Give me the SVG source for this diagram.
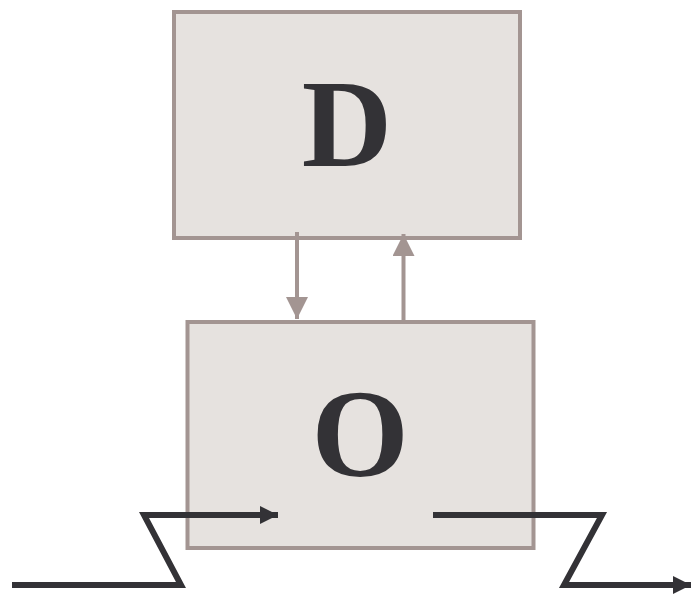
<svg xmlns="http://www.w3.org/2000/svg" width="691" height="594" viewBox="0 0 691 594">
<style>
.box{fill:#e6e2df;stroke:#a39592;stroke-width:4}
.lbl{font-family:"Liberation Serif",serif;font-weight:bold;font-size:125px;fill:#333236;text-anchor:middle}
.fb{stroke:#a39592;stroke-width:4;fill:none}
.io{stroke:#333236;stroke-width:6;fill:none;stroke-linejoin:miter}
</style>
<defs>
<marker id="ag" markerUnits="userSpaceOnUse" markerWidth="24" markerHeight="22" refX="22" refY="11" orient="auto" viewBox="0 0 24 22">
<path d="M0,0 L22,11 L0,22 Z" fill="#a39592"/>
</marker>
<marker id="ad" markerUnits="userSpaceOnUse" markerWidth="20" markerHeight="20" refX="18" refY="9" orient="auto" viewBox="0 0 20 18">
<path d="M0,0 L18,9 L0,18 Z" fill="#333236"/>
</marker>
</defs>
<g id="node-D">
<rect class="box" x="174" y="12" width="346" height="226"/>
<text class="lbl" x="347" y="166">D</text>
</g>
<g id="node-O">
<rect class="box" x="187.5" y="322" width="346" height="226"/>
<text class="lbl" x="360" y="476">O</text>
</g>
<g id="connectors">
<path class="fb" d="M297,232 L297,319" marker-end="url(#ag)"/>
<path class="fb" d="M403.5,322 L403.5,234" marker-end="url(#ag)"/>
<path class="io" d="M12,585 L181,585 L144,515 L278,515" marker-end="url(#ad)"/>
<path class="io" d="M433,515 L602,515 L564,585 L691,585" marker-end="url(#ad)"/>
</g>
</svg>
